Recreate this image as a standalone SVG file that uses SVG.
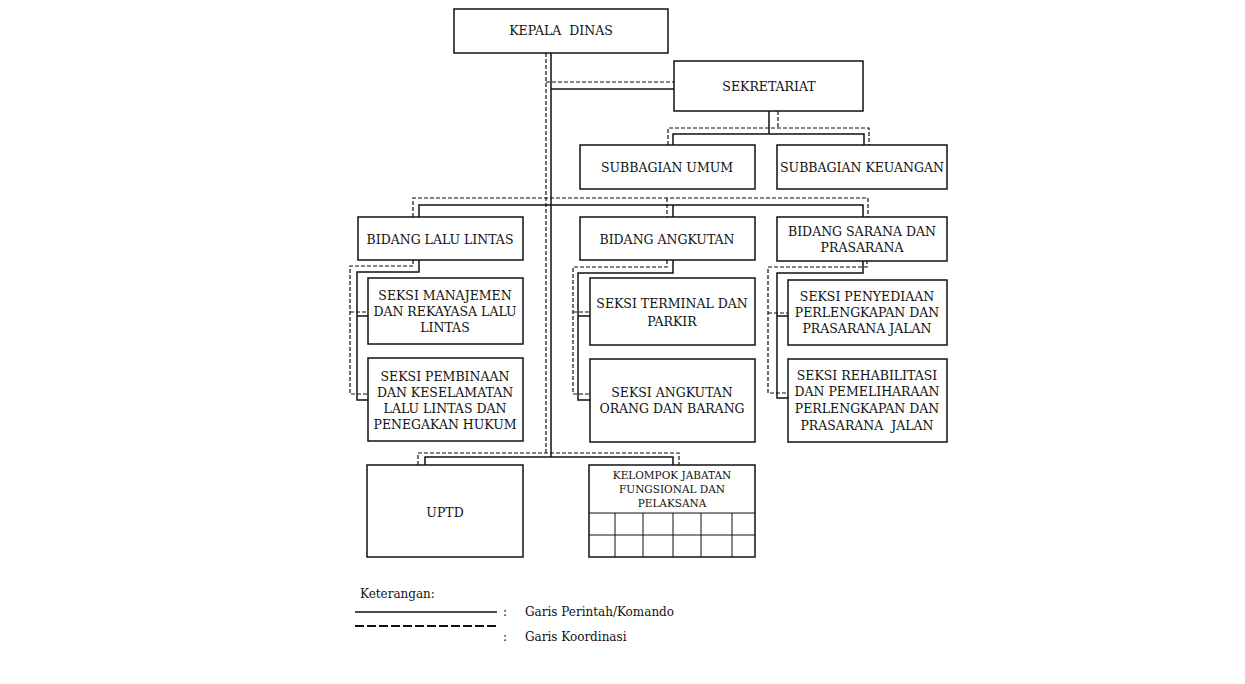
<svg xmlns="http://www.w3.org/2000/svg" width="1245" height="684" viewBox="0 0 1245 684">
<style>
.box{fill:#fff;stroke:#111;stroke-width:1.5}
.t{font-family:"DejaVu Serif","Liberation Serif",serif;font-size:12.5px;fill:#111;text-anchor:middle;white-space:pre}
.s{font-size:10.5px}
.l{font-family:"DejaVu Serif","Liberation Serif",serif;font-size:12px;fill:#111}
.sol{fill:none;stroke:#111;stroke-width:1.5}
.das{fill:none;stroke:#111;stroke-width:1.2;stroke-dasharray:4 2}
.ldas{fill:none;stroke:#111;stroke-width:2;stroke-dasharray:9 3}
.grid{fill:none;stroke:#111;stroke-width:1}
</style>
<rect width="1245" height="684" fill="#fff"/>
<g id="connectors">
<path class="das" d="M546,53 V453"/>
<path class="sol" d="M551,53 V457"/>
<path class="das" d="M546,82 H674"/>
<path class="sol" d="M551,89 H674"/>
<path class="das" d="M778,111 V128 M668,145 V128 H869 V145"/>
<path class="sol" d="M769,111 V134 M673,145 V134 H864 V145"/>
<path class="das" d="M413,217 V198 H868 V217 M667,198 V217"/>
<path class="sol" d="M419,217 V205 H863 V217 M673,205 V217"/>
<path class="das" d="M413,260 V266 H350 V394 H368 M350,312 H368"/>
<path class="sol" d="M419,260 V272 H357 V400 H368 M357,316 H368"/>
<path class="das" d="M667,260 V267 H573 V394 H590 M573,312 H590"/>
<path class="sol" d="M673,260 V273 H578 V400 H590 M578,316 H590"/>
<path class="das" d="M867,260 V267 H768 V393 H788 M768,313 H788"/>
<path class="sol" d="M863,260 V273 H777 V398 H788 M777,316 H788"/>
<path class="das" d="M418,465 V453 H679 V465"/>
<path class="sol" d="M425,465 V457 H673 V465"/>
</g>
<g id="kepala"><rect class="box" x="454" y="9" width="214" height="44"/><text class="t" x="561" y="35">KEPALA  DINAS</text></g>
<g id="sekretariat"><rect class="box" x="674" y="61" width="189" height="50"/><text class="t" x="769" y="91">SEKRETARIAT</text></g>
<g id="subbagian-umum"><rect class="box" x="580" y="145" width="175" height="44"/><text class="t" x="667" y="172">SUBBAGIAN UMUM</text></g>
<g id="subbagian-keuangan"><rect class="box" x="777" y="145" width="170" height="44"/><text class="t" x="862" y="172">SUBBAGIAN KEUANGAN</text></g>
<g id="bidang-lalu-lintas"><rect class="box" x="358" y="217" width="165" height="43"/><text class="t" x="440" y="244">BIDANG LALU LINTAS</text></g>
<g id="bidang-angkutan"><rect class="box" x="580" y="217" width="175" height="43"/><text class="t" x="667" y="244">BIDANG ANGKUTAN</text></g>
<g id="bidang-sarana"><rect class="box" x="777" y="217" width="170" height="44"/><text class="t" x="862" y="236">BIDANG SARANA DAN</text><text class="t" x="862" y="252">PRASARANA</text></g>
<g id="seksi-manajemen"><rect class="box" x="368" y="278" width="155" height="66"/><text class="t" x="445" y="300">SEKSI MANAJEMEN</text><text class="t" x="445" y="316">DAN REKAYASA LALU</text><text class="t" x="445" y="332">LINTAS</text></g>
<g id="seksi-pembinaan"><rect class="box" x="368" y="358" width="155" height="83"/><text class="t" x="445" y="381">SEKSI PEMBINAAN</text><text class="t" x="445" y="397">DAN KESELAMATAN</text><text class="t" x="445" y="413">LALU LINTAS DAN</text><text class="t" x="445" y="429">PENEGAKAN HUKUM</text></g>
<g id="seksi-terminal"><rect class="box" x="590" y="278" width="165" height="67"/><text class="t" x="672" y="308">SEKSI TERMINAL DAN</text><text class="t" x="672" y="326">PARKIR</text></g>
<g id="seksi-angkutan-orang"><rect class="box" x="590" y="359" width="165" height="83"/><text class="t" x="672" y="397">SEKSI ANGKUTAN</text><text class="t" x="672" y="413">ORANG DAN BARANG</text></g>
<g id="seksi-penyediaan"><rect class="box" x="788" y="280" width="159" height="65"/><text class="t" x="867" y="301">SEKSI PENYEDIAAN</text><text class="t" x="867" y="317">PERLENGKAPAN DAN</text><text class="t" x="867" y="333">PRASARANA JALAN</text></g>
<g id="seksi-rehabilitasi"><rect class="box" x="788" y="359" width="159" height="83"/><text class="t" x="867" y="380">SEKSI REHABILITASI</text><text class="t" x="867" y="396">DAN PEMELIHARAAN</text><text class="t" x="867" y="413">PERLENGKAPAN DAN</text><text class="t" x="867" y="430">PRASARANA  JALAN</text></g>
<g id="uptd"><rect class="box" x="367" y="465" width="156" height="92"/><text class="t" x="445" y="517">UPTD</text></g>
<g id="kelompok"><rect class="box" x="589" y="465" width="166" height="92"/>
<path class="grid" d="M589,513 H755 M589,535 H755 M615,513 V557 M643,513 V557 M673,513 V557 M701,513 V557 M732,513 V557"/>
<text class="t s" x="672" y="479">KELOMPOK JABATAN</text><text class="t s" x="672" y="493">FUNGSIONAL DAN</text><text class="t s" x="672" y="507">PELAKSANA</text></g>
<g id="legend">
<text class="l" x="360" y="598">Keterangan:</text>
<path class="sol" d="M355,612 H497"/>
<path class="ldas" d="M355,626 H499"/>
<text class="l" x="503" y="616">:</text>
<text class="l" x="525" y="616">Garis Perintah/Komando</text>
<text class="l" x="503" y="641">:</text>
<text class="l" x="525" y="641">Garis Koordinasi</text>
</g>
</svg>
